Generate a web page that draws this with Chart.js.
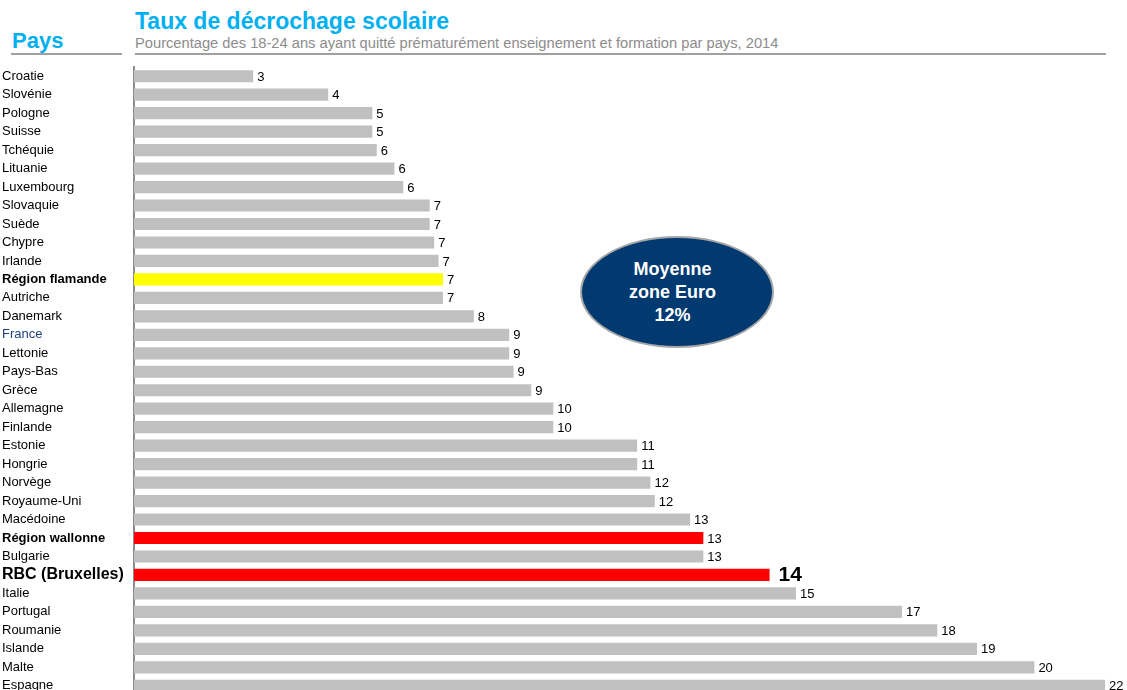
<!DOCTYPE html>
<html>
<head>
<meta charset="utf-8">
<script src="https://cdn.jsdelivr.net/npm/chart.js@4"></script>
<style>
  body { margin: 0; width: 1127px; height: 690px; overflow: hidden; background: #fff; font-family: "Liberation Sans", Arial, sans-serif; position: relative; }
  #pays { position: absolute; left: 12px; top: 28px; font-size: 22px; font-weight: bold; color: #00b0f0; }
  #pays-line { position: absolute; left: 11px; top: 53px; width: 111px; height: 2px; background: #a0a0a0; }
  #titre { position: absolute; left: 135px; top: 8px; font-size: 23px; font-weight: bold; color: #00b0f0; }
  #sous-titre { position: absolute; left: 135px; top: 35px; font-size: 14.7px; color: #8c8c8c; }
  #titre-line { position: absolute; left: 135px; top: 53px; width: 971px; height: 2px; background: #a0a0a0; }
  #wrap { position: absolute; left: 0; top: 60px; width: 1127px; height: 640px; }
  #bulle { position: absolute; left: 580px; top: 236px; width: 190px; height: 108px; border-radius: 50%; background: #003a70; border: 2px solid #a6a6a6; color: #fff; font-weight: bold; font-size: 18px; line-height: 23px; text-align: center; display: flex; align-items: center; justify-content: center; box-sizing: content-box; }
  #bulle div { margin-right: 9px; }
</style>
</head>
<body>
<div id="pays">Pays</div>
<div id="pays-line"></div>
<div id="titre">Taux de décrochage scolaire</div>
<div id="sous-titre">Pourcentage des 18-24 ans ayant quitté prématurément enseignement et formation par pays, 2014</div>
<div id="titre-line"></div>
<div id="wrap"><canvas id="chart"></canvas></div>
<div id="bulle"><div>Moyenne<br>zone Euro<br>12%</div></div>
<script>
// Données
const pays = ['Croatie', 'Slovénie', 'Pologne', 'Suisse', 'Tchéquie', 'Lituanie', 'Luxembourg',
  'Slovaquie', 'Suède', 'Chypre', 'Irlande', 'Région flamande', 'Autriche', 'Danemark', 'France',
  'Lettonie', 'Pays-Bas', 'Grèce', 'Allemagne', 'Finlande', 'Estonie', 'Hongrie', 'Norvège',
  'Royaume-Uni', 'Macédoine', 'Région wallonne', 'Bulgarie', 'RBC (Bruxelles)', 'Italie',
  'Portugal', 'Roumanie', 'Islande', 'Malte', 'Espagne'];
const taux = [2.7, 4.4, 5.4, 5.4, 5.5, 5.9, 6.1,
  6.7, 6.7, 6.8, 6.9, 7.0, 7.0, 7.7, 8.5,
  8.5, 8.6, 9.0, 9.5, 9.5, 11.4, 11.4, 11.7,
  11.8, 12.6, 12.9, 12.9, 14.4, 15.0,
  17.4, 18.2, 19.1, 20.4, 22.0];
const enGras = ['Région flamande', 'Région wallonne', 'RBC (Bruxelles)'];
const police = '"Liberation Sans", Arial, sans-serif';

// Couleur de chaque barre
const couleurs = pays.map((p) => {
  if (p === 'Région flamande') return '#ffff00';
  if (p === 'Région wallonne' || p === 'RBC (Bruxelles)') return '#ff0000';
  return '#c0c0c0';
});

// Plugin pour écrire les valeurs à droite des barres
const valeurs = {
  id: 'valeurs',
  afterDatasetsDraw(chart) {
    const ctx = chart.ctx;
    const meta = chart.getDatasetMeta(0);
    ctx.save();
    ctx.textBaseline = 'middle';
    ctx.textAlign = 'left';
    meta.data.forEach((bar, i) => {
      const rbc = pays[i] === 'RBC (Bruxelles)';
      ctx.font = rbc ? 'bold 21px ' + police : '13px ' + police;
      ctx.fillStyle = '#000';
      ctx.fillText(Math.round(taux[i]), bar.x + (rbc ? 9 : 4), bar.y + (rbc ? 0 : 1));
    });
    ctx.restore();
  }
};

new Chart(document.getElementById('chart'), {
  type: 'bar',
  data: {
    labels: pays,
    datasets: [{
      data: taux,
      backgroundColor: couleurs,
      borderWidth: 0,
      barPercentage: 0.66,
      categoryPercentage: 1
    }]
  },
  options: {
    indexAxis: 'y',
    responsive: true,
    maintainAspectRatio: false,
    animation: false,
    layout: { padding: { left: 2, right: 22, top: 7, bottom: 5 } },
    plugins: { legend: { display: false }, tooltip: { enabled: false } },
    scales: {
      x: { display: false, min: 0, max: 22 },
      y: {
        grid: { display: false },
        border: { display: true, color: '#8c8c8c', width: 2 },
        afterFit: (scale) => {
          scale.width = 132;
          scale.paddingTop = 0;
          scale.paddingBottom = 0;
        },
        ticks: {
          autoSkip: false,
          crossAlign: 'far',
          color: (c) => pays[c.index] === 'France' ? '#1f3f7f' : '#000',
          font: (c) => {
            const p = pays[c.index];
            if (p === 'RBC (Bruxelles)') return { family: police, size: 16, weight: 'bold' };
            return { family: police, size: 13, weight: enGras.includes(p) ? 'bold' : 'normal' };
          }
        }
      }
    }
  },
  plugins: [valeurs]
});
</script>
</body>
</html>
